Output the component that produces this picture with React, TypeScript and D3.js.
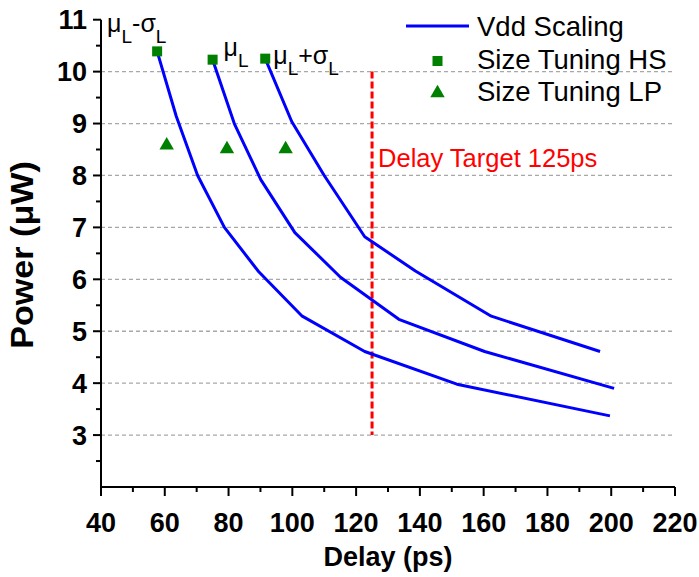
import React from "react";
import * as d3 from "d3";

// Delay (ps) vs. power (µW) for three process corners
const cornerNames = ["μL-σL", "μL", "μL+σL"];

const vddDelayLow = [57.6, 63.6, 70.3, 78.7, 89.4, 103.1, 122.7, 151.6, 199.6];
const vddPowerLow = [10.39, 9.14, 8.0, 7.0, 6.15, 5.29, 4.61, 3.98, 3.37];

const vddDelayMid = [75.0, 81.8, 90.1, 100.8, 115.1, 133.4, 160.3, 200.9];
const vddPowerMid = [10.23, 9.0, 7.92, 6.9, 6.04, 5.23, 4.61, 3.9];

const vddDelayHigh = [91.5, 99.8, 110.0, 122.7, 138.6, 162.4, 196.5];
const vddPowerHigh = [10.25, 9.04, 8.0, 6.82, 6.16, 5.29, 4.61];

const hsDelay = [57.6, 75.0, 91.5];
const hsPower = [10.39, 10.23, 10.25];

const lpDelay = [60.6, 79.5, 97.9];
const lpPower = [8.58, 8.51, 8.51];

const delayTarget = 125;
const xTicks = [40, 60, 80, 100, 120, 140, 160, 180, 200, 220];
const yTicks = [3, 4, 5, 6, 7, 8, 9, 10, 11];
const gridValues = [3, 4, 5, 6, 7, 8, 9, 10];

const W = 699;
const H = 577;
const FONT = "'Liberation Sans', Arial, Helvetica, sans-serif";
const BLUE = "#0000ff";
const GREEN = "#008000";

export default function App() {
  const x = d3.scaleLinear().domain([40, 220]).range([101, 675]);
  const y = d3.scaleLinear().domain([2, 11]).range([487, 19.7]);

  const line = d3
    .line<[number, number]>()
    .x((d) => x(d[0]))
    .y((d) => y(d[1]));

  const curves: [number, number][][] = [
    vddDelayLow.map((d, i) => [d, vddPowerLow[i]]),
    vddDelayMid.map((d, i) => [d, vddPowerMid[i]]),
    vddDelayHigh.map((d, i) => [d, vddPowerHigh[i]]),
  ];

  const xMinor = d3.range(50, 220, 20);
  const yMinor = d3.range(2.5, 11, 1);

  const triPath = d3.symbol(d3.symbolTriangle, 90)() as string;

  // annotation offsets relative to each HS point
  const labelOffsets: [number, number][] = [
    [-50, -19],
    [11, -4],
    [8, 5],
  ];

  const renderCorner = (name: string) => {
    // split into base symbol / subscript pieces
    const parts: { t: string; sub: boolean }[] = [];
    const re = /(μ|σ)L/g;
    let last = 0;
    let m: RegExpExecArray | null;
    while ((m = re.exec(name))) {
      if (m.index > last) parts.push({ t: name.slice(last, m.index), sub: false });
      parts.push({ t: m[1], sub: false });
      parts.push({ t: "L", sub: true });
      last = m.index + m[0].length;
    }
    if (last < name.length) parts.push({ t: name.slice(last), sub: false });
    let base = true;
    return parts.map((p, i) => {
      let dy = 0;
      if (p.sub && base) {
        dy = 11;
        base = false;
      } else if (!p.sub && !base) {
        dy = -11;
        base = true;
      }
      return (
        <tspan key={i} dy={dy} fontSize={p.sub ? 19 : 25}>
          {p.t}
        </tspan>
      );
    });
  };

  return (
    <svg width={W} height={H} style={{ display: "block", position: "absolute", left: 0, top: 0 }} fontFamily={FONT}>
      <rect width={W} height={H} fill="#fff" />

      {/* horizontal grid */}
      {gridValues.map((v) => (
        <line
          key={"g" + v}
          x1={x(40)}
          x2={x(220)}
          y1={y(v)}
          y2={y(v)}
          stroke="#a8a8a8"
          strokeWidth={1.3}
          strokeDasharray="4,3"
        />
      ))}

      {/* axes */}
      <line x1={x(40)} x2={x(40)} y1={y(2)} y2={y(11)} stroke="#000" strokeWidth={2} />
      <line x1={x(40)} x2={x(220)} y1={y(2)} y2={y(2)} stroke="#000" strokeWidth={2} />
      {yTicks.map((v) => (
        <line key={"yt" + v} x1={x(40) - 8} x2={x(40)} y1={y(v)} y2={y(v)} stroke="#000" strokeWidth={2} />
      ))}
      {yMinor.map((v) => (
        <line key={"ym" + v} x1={x(40) - 5} x2={x(40)} y1={y(v)} y2={y(v)} stroke="#000" strokeWidth={2} />
      ))}
      {xTicks.map((v) => (
        <line key={"xt" + v} x1={x(v)} x2={x(v)} y1={y(2)} y2={y(2) + 9} stroke="#000" strokeWidth={2} />
      ))}
      {xMinor.map((v) => (
        <line key={"xm" + v} x1={x(v)} x2={x(v)} y1={y(2)} y2={y(2) + 5} stroke="#000" strokeWidth={2} />
      ))}

      {/* tick labels */}
      {yTicks.map((v) => (
        <text
          key={"yl" + v}
          x={x(40) - 14}
          y={y(v)}
          dy="0.36em"
          textAnchor="end"
          fontWeight="bold"
          fontSize={27}
        >
          {v}
        </text>
      ))}
      {xTicks.map((v) => (
        <text key={"xl" + v} x={x(v)} y={532} textAnchor="middle" fontWeight="bold" fontSize={27}>
          {v}
        </text>
      ))}

      {/* axis titles */}
      <text x={388} y={566} textAnchor="middle" fontWeight="bold" fontSize={27}>
        Delay (ps)
      </text>
      <text
        transform={`translate(33, 255) rotate(-90) scale(1.1,1)`}
        textAnchor="middle"
        fontWeight="bold"
        fontSize={31}
      >
        Power (μW)
      </text>

      {/* delay target */}
      <line
        x1={x(delayTarget)}
        x2={x(delayTarget)}
        y1={y(10)}
        y2={y(3)}
        stroke="#ff0000"
        strokeWidth={3}
        strokeDasharray="7,3"
      />
      <text x={x(delayTarget) + 6} y={167} fill="#ff0000" fontSize={25.5}>
        {`Delay Target ${delayTarget}ps`}
      </text>

      {/* Vdd scaling curves */}
      {curves.map((c, i) => (
        <path key={"c" + i} d={line(c) as string} fill="none" stroke={BLUE} strokeWidth={3} strokeLinejoin="round" />
      ))}

      {/* size tuning points */}
      {hsDelay.map((d, i) => (
        <rect key={"hs" + i} x={x(d) - 5} y={y(hsPower[i]) - 5} width={10} height={10} fill={GREEN} />
      ))}
      {lpDelay.map((d, i) => (
        <path key={"lp" + i} d={triPath} transform={`translate(${x(d)},${y(lpPower[i])})`} fill={GREEN} />
      ))}

      {/* corner annotations */}
      {cornerNames.map((n, i) => (
        <text
          key={"n" + i}
          x={x(hsDelay[i]) + labelOffsets[i][0]}
          y={y(hsPower[i]) + labelOffsets[i][1]}
          fontSize={25}
          fill="#000"
        >
          {renderCorner(n)}
        </text>
      ))}

      {/* legend */}
      <g fontSize={27.5}>
        <line x1={406} x2={469} y1={26} y2={26} stroke={BLUE} strokeWidth={3} />
        <text x={477} y={36}>Vdd Scaling</text>
        <rect x={432.5} y={56} width={10} height={10} fill={GREEN} />
        <text x={477} y={69}>Size Tuning HS</text>
        <path d={triPath} transform="translate(437.5,93)" fill={GREEN} />
        <text x={477} y={101}>Size Tuning LP</text>
      </g>
    </svg>
  );
}
